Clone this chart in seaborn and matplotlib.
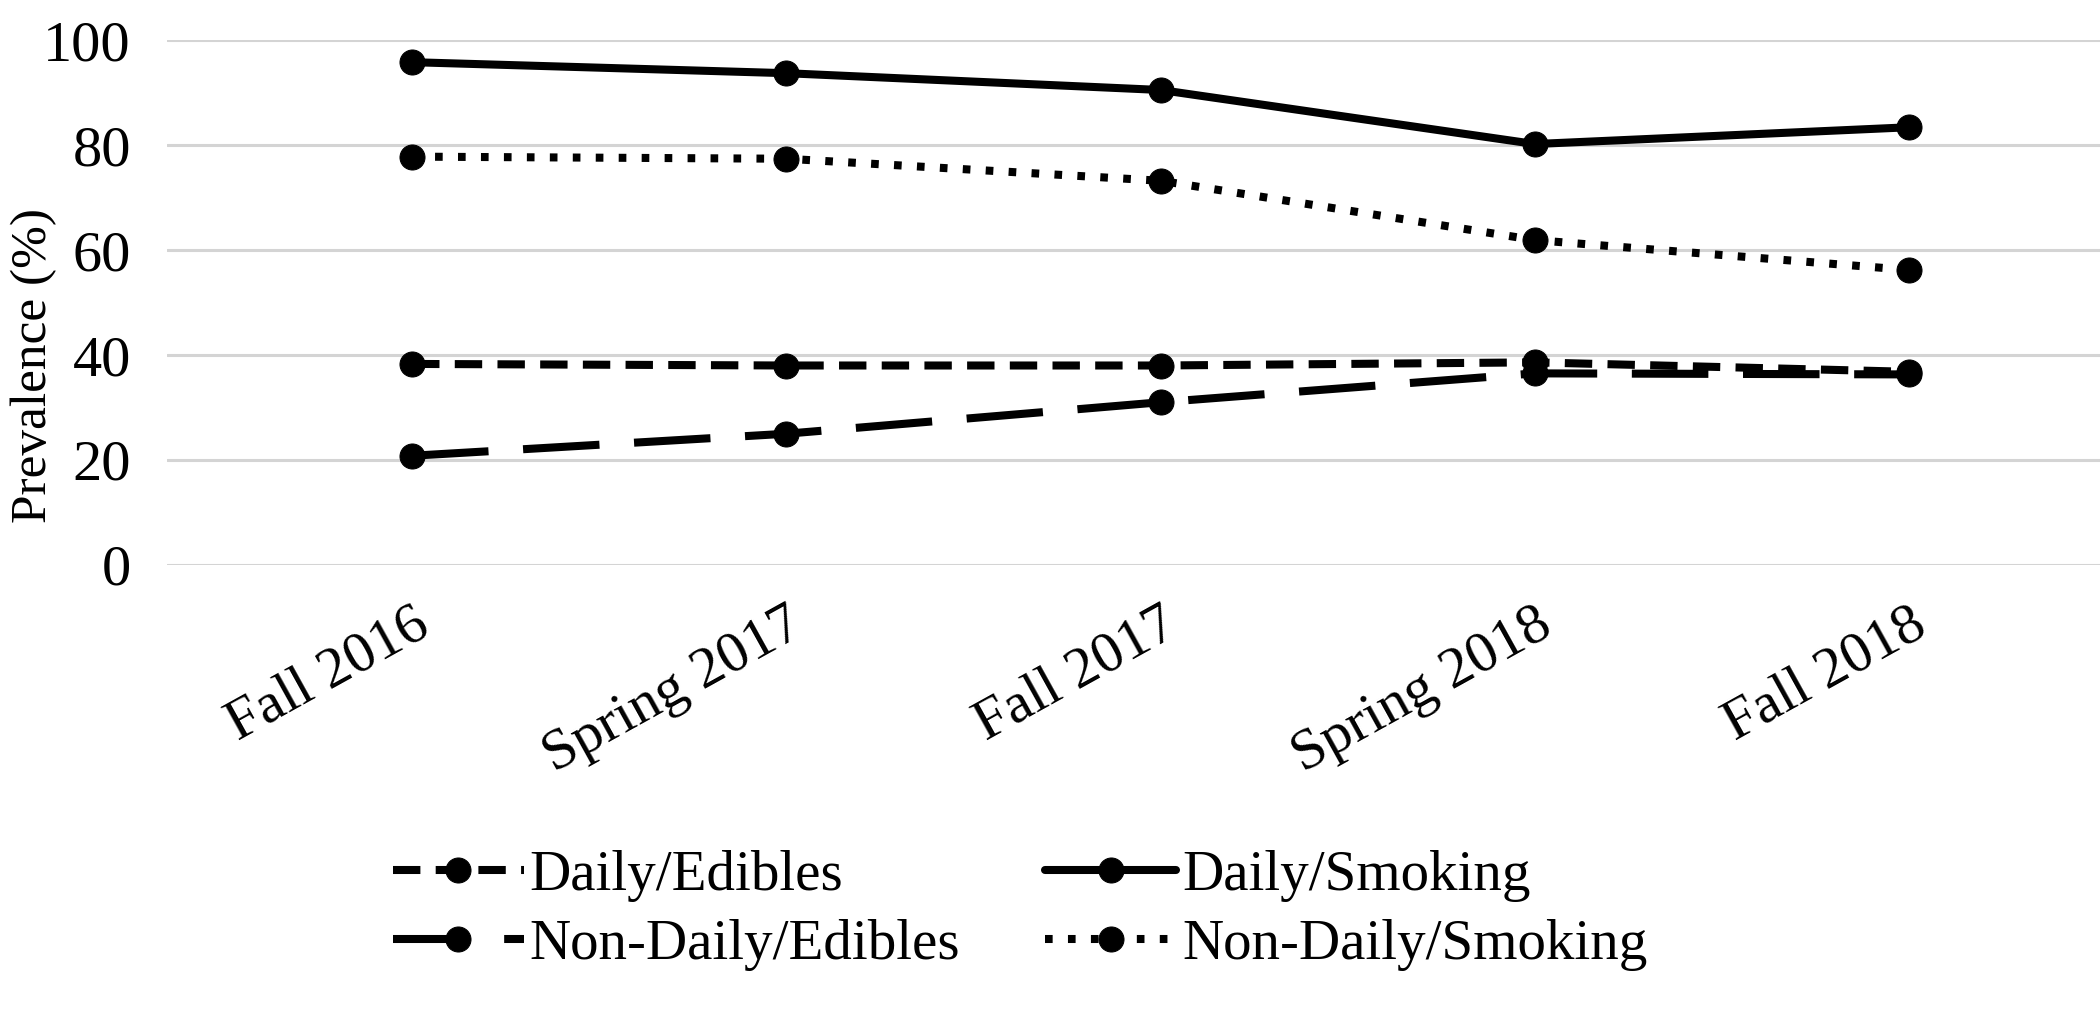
import pandas as pd
import matplotlib
matplotlib.use("Agg")
import matplotlib.pyplot as plt
import matplotlib.transforms as mtransforms
import seaborn as sns

# data
waves = ["Fall 2016", "Spring 2017", "Fall 2017", "Spring 2018", "Fall 2018"]
daily_edibles = [38.3, 38.0, 38.0, 38.6, 36.8]
non_daily_edibles = [20.8, 25.0, 31.0, 36.5, 36.3]
daily_smoking = [95.8, 93.7, 90.5, 80.2, 83.4]
non_daily_smoking = [77.8, 77.4, 73.2, 61.9, 56.2]

series = {
    "Daily/Edibles": daily_edibles,
    "Non-Daily/Edibles": non_daily_edibles,
    "Daily/Smoking": daily_smoking,
    "Non-Daily/Smoking": non_daily_smoking,
}

# long format for seaborn
rows = []
for name, vals in series.items():
    for w, v in zip(waves, vals):
        rows.append({"wave": w, "group": name, "prevalence": v})
df = pd.DataFrame(rows)

sns.set_style("white")
plt.rcParams["font.family"] = ["Liberation Serif", "DejaVu Serif"]
plt.rcParams["text.color"] = "black"

fig = plt.figure(figsize=(21, 10.29), dpi=100)
ax = fig.add_axes([0.0795, 0.451, 0.9205, 0.510])

# dash patterns in units of line width
dash_styles = {
    "Daily/Edibles": (3.4, 1.9),
    "Non-Daily/Edibles": (9.5, 4.3),
    "Daily/Smoking": "",
    "Non-Daily/Smoking": (0.95, 1.9),
}

sns.lineplot(
    data=df, x="wave", y="prevalence", hue="group", style="group",
    palette=["black"] * 4, dashes=dash_styles,
    markers={k: "o" for k in series}, markersize=18,
    markeredgecolor="black", linewidth=5.8, sort=False, ax=ax, legend=True,
)

ax.set_ylim(0, 100)
ax.set_xlim(-0.655, 4.51)
ax.set_yticks([0, 20, 40, 60, 80, 100])
ax.yaxis.grid(True, color="#d4d4d4", linewidth=2.2)
ax.xaxis.grid(False)
for s in ax.spines.values():
    s.set_visible(False)
ax.tick_params(axis="both", length=0, labelsize=42, colors="black")
ax.tick_params(axis="y", pad=26)
ax.set_xlabel("")
ax.set_ylabel("")
fig.text(0.016, 0.645, "Prevalence (%)", rotation=90, ha="center",
         va="center", fontsize=37)

# rotated category labels, nudged a little left
shift = mtransforms.ScaledTranslation(-10 / 100, 0, fig.dpi_scale_trans)
for lab in ax.get_xticklabels():
    lab.set_rotation(29)
    lab.set_ha("right")
    lab.set_va("top")
    lab.set_rotation_mode("anchor")
    lab.set_transform(lab.get_transform() + shift)
ax.tick_params(axis="x", pad=24)

handles, labels = ax.get_legend_handles_labels()
ax.legend(handles, labels, ncol=2, loc="upper left",
          bbox_to_anchor=(0.105, -0.50), frameon=False, fontsize=41,
          handlelength=2.3, handletextpad=0.1, columnspacing=1.5,
          labelspacing=0.3, borderaxespad=0, labelcolor="black")

fig.savefig("out.png", dpi=100)
